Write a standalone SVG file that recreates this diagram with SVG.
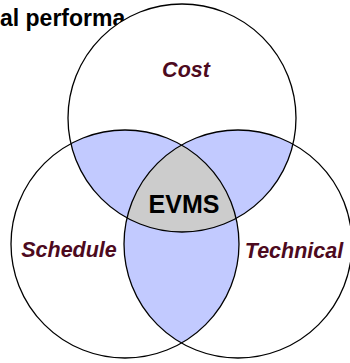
<svg xmlns="http://www.w3.org/2000/svg" width="350" height="363" viewBox="0 0 350 363">
<style>
.ring{fill:none;stroke:#000;stroke-width:1.3}
.base{fill:#fff}
.pair{fill:#C2CAFF}
.core{fill:#CCCCCC}
.lbl{font-family:"Liberation Sans",Arial,sans-serif;font-weight:bold;font-style:italic;font-size:21.5px;fill:#4D0A1E}
.title{font-family:"Liberation Sans",Arial,sans-serif;font-weight:bold;font-size:23px;fill:#000}
.evms{font-family:"Liberation Sans",Arial,sans-serif;font-weight:bold;font-size:25px;fill:#000}
</style>
<defs>
<circle id="cirT" cx="182" cy="118" r="114"/>
<circle id="cirL" cx="125" cy="244" r="114"/>
<circle id="cirR" cx="238" cy="244" r="114"/>
<clipPath id="clipT"><use href="#cirT"/></clipPath>
<clipPath id="clipL"><use href="#cirL"/></clipPath>
<clipPath id="clipR"><use href="#cirR"/></clipPath>
</defs>
<text class="title" x="0" y="26">al performa</text>
<g id="fills">
<use href="#cirT" class="base"/>
<use href="#cirL" class="base"/>
<use href="#cirR" class="base"/>
<g clip-path="url(#clipT)"><use href="#cirL" class="pair"/><use href="#cirR" class="pair"/></g>
<g clip-path="url(#clipL)"><use href="#cirR" class="pair"/></g>
</g>
<g id="evms">
<g clip-path="url(#clipT)"><g clip-path="url(#clipL)"><use href="#cirR" class="core"/></g></g>
</g>
<g id="cost"><use href="#cirT" class="ring"/><text class="lbl" x="186" y="77" text-anchor="middle">Cost</text></g>
<g id="schedule"><use href="#cirL" class="ring"/><text class="lbl" x="69" y="257" text-anchor="middle">Schedule</text></g>
<g id="technical"><use href="#cirR" class="ring"/><text class="lbl" x="294" y="258" text-anchor="middle">Technical</text></g>
<text class="evms" x="184" y="213" text-anchor="middle">EVMS</text>
<g id="connectors"/>
</svg>
